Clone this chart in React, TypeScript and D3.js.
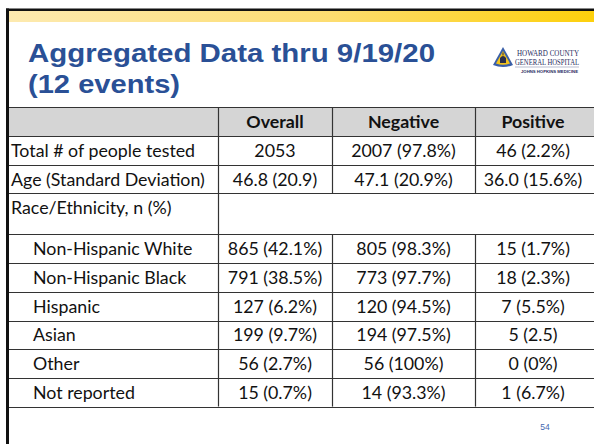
import React, { useRef, useEffect } from 'react';
import * as d3 from 'd3';

const titleLines = ['Aggregated Data thru 9/19/20', '(12 events)'];
const columnHeaders = ['Overall', 'Negative', 'Positive'];
const rowLabels = [
  'Total # of people tested',
  'Age (Standard Deviation)',
  'Race/Ethnicity, n (%)',
  'Non-Hispanic White',
  'Non-Hispanic Black',
  'Hispanic',
  'Asian',
  'Other',
  'Not reported',
];
const overallValues = ['2053', '46.8 (20.9)', '', '865 (42.1%)', '791 (38.5%)', '127 (6.2%)', '199 (9.7%)', '56 (2.7%)', '15 (0.7%)'];
const negativeValues = ['2007 (97.8%)', '47.1 (20.9%)', '', '805 (98.3%)', '773 (97.7%)', '120 (94.5%)', '194 (97.5%)', '56 (100%)', '14 (93.3%)'];
const positiveValues = ['46 (2.2%)', '36.0 (15.6%)', '', '15 (1.7%)', '18 (2.3%)', '7 (5.5%)', '5 (2.5)', '0 (0%)', '1 (6.7%)'];
const indentedRows = [false, false, false, true, true, true, true, true, true];
const pageNumber = '54';

const W = 594;
const H = 444;
const FONT = 'Lato, "Noto Sans", sans-serif';
const FS = 17.8;

const App = () => {
  const ref = useRef<SVGSVGElement>(null);

  useEffect(() => {
    document.body.style.margin = '0';
    const svg = d3.select(ref.current);
    svg.selectAll('*').remove();

    // slide frame
    const defs = svg.append('defs');
    const grad = defs.append('linearGradient').attr('id', 'topBar').attr('x1', 0).attr('x2', 1);
    grad.append('stop').attr('offset', 0).attr('stop-color', '#fdeab0');
    grad.append('stop').attr('offset', 0.55).attr('stop-color', '#fddd70');
    grad.append('stop').attr('offset', 1).attr('stop-color', '#fdd00c');

    svg.append('rect').attr('width', W).attr('height', H).attr('fill', '#fff');
    svg.append('rect').attr('x', 9).attr('y', 11).attr('width', W - 9).attr('height', 11).attr('fill', 'url(#topBar)');
    svg.append('rect').attr('x', 6).attr('y', 8.5).attr('width', W - 6).attr('height', 2.5).attr('fill', '#111');
    svg.append('rect').attr('x', 6).attr('y', 8.5).attr('width', 3).attr('height', H).attr('fill', '#111');

    // title (slide text is a bit stretched horizontally)
    const titleWidths = [407, 152];
    svg.append('g').selectAll('text')
      .data(titleLines)
      .join('text')
      .attr('x', 28)
      .attr('y', (d, i) => 61.5 + i * 31)
      .attr('textLength', (d, i) => titleWidths[i])
      .attr('lengthAdjust', 'spacingAndGlyphs')
      .attr('font-family', 'Liberation Sans, Arial, sans-serif')
      .attr('font-weight', 'bold')
      .attr('font-size', 26.5)
      .attr('fill', '#2a5096')
      .text(d => d);

    // logo
    const logo = svg.append('g').attr('transform', 'translate(492,46)');
    logo.append('path').attr('d', 'M11,1 L21,19 Q11,23 1,19 Z').attr('fill', '#3a5fa8');
    logo.append('path').attr('d', 'M11,5 L18,17.5 Q11,20 4,17.5 Z').attr('fill', '#f2c21b');
    logo.append('path').attr('d', 'M8,17 L8,12 Q11,8 14,12 L14,17 Z').attr('fill', '#2a2f4a');
    logo.append('rect').attr('x', 10.5).attr('y', 6.5).attr('width', 1).attr('height', 3).attr('fill', '#2a2f4a');
    logo.append('text').attr('x', 25).attr('y', 10).attr('textLength', 62).attr('lengthAdjust', 'spacingAndGlyphs')
      .attr('font-family', 'Liberation Serif, serif').attr('font-size', 7.5).attr('fill', '#1f2b5e').text('HOWARD COUNTY');
    logo.append('text').attr('x', 23).attr('y', 18.5).attr('textLength', 64).attr('lengthAdjust', 'spacingAndGlyphs')
      .attr('font-family', 'Liberation Serif, serif').attr('font-size', 7.5).attr('fill', '#1f2b5e').text('GENERAL HOSPITAL');
    logo.append('line').attr('x1', 23).attr('x2', 87).attr('y1', 21).attr('y2', 21).attr('stroke', '#8a92b0').attr('stroke-width', 0.6);
    logo.append('text').attr('x', 29).attr('y', 27).attr('textLength', 57).attr('lengthAdjust', 'spacingAndGlyphs')
      .attr('font-family', 'Liberation Sans, sans-serif').attr('font-size', 3.6).attr('font-weight', 'bold').attr('fill', '#1f2b5e')
      .text('JOHNS HOPKINS MEDICINE');

    // table geometry
    const colEdges = [9, 218, 332, 475, 591];
    const headerTop = 107;
    const headerH = 29;
    const rowH = 28.7;
    const raceH = 41;
    const rowHeights = rowLabels.map((d, i) => (i === 2 ? raceH : rowH));
    const rowTops = rowHeights.map((h, i) => headerTop + headerH + d3.sum(rowHeights.slice(0, i)));
    const tableBottom = rowTops[rowTops.length - 1] + rowH;

    const colCenter = (c: number) => (colEdges[c] + colEdges[c + 1]) / 2;

    const table = svg.append('g');
    table.append('rect')
      .attr('x', colEdges[0]).attr('y', headerTop)
      .attr('width', W - colEdges[0]).attr('height', headerH)
      .attr('fill', '#d5d5d5');

    // horizontal rules
    const hLines = [headerTop, headerTop + headerH, ...rowTops.slice(1), tableBottom];
    table.append('g').selectAll('line')
      .data(hLines)
      .join('line')
      .attr('x1', colEdges[0]).attr('x2', W)
      .attr('y1', d => Math.round(d) + 0.5).attr('y2', d => Math.round(d) + 0.5)
      .attr('stroke', '#333').attr('stroke-width', 1.2);

    // vertical rules (race row merged across value columns)
    colEdges.slice(1, 4).forEach((x, ci) => {
      const segs = ci === 0
        ? [[headerTop, tableBottom]]
        : [[headerTop, rowTops[2]], [rowTops[3], tableBottom]];
      segs.forEach(([y1, y2]) => {
        table.append('line')
          .attr('x1', x + 0.5).attr('x2', x + 0.5)
          .attr('y1', y1).attr('y2', y2)
          .attr('stroke', '#333').attr('stroke-width', 1.2);
      });
    });

    // header text
    table.append('g').selectAll('text')
      .data(columnHeaders)
      .join('text')
      .attr('x', (d, i) => colCenter(i + 1))
      .attr('y', headerTop + headerH / 2 + 6.5)
      .attr('text-anchor', 'middle')
      .attr('font-family', FONT)
      .attr('font-weight', 'bold')
      .attr('font-size', FS)
      .attr('fill', '#111')
      .text(d => d);

    // row labels
    table.append('g').selectAll('text')
      .data(rowLabels)
      .join('text')
      .attr('x', (d, i) => (indentedRows[i] ? 33 : 11))
      .attr('y', (d, i) => rowTops[i] + rowH / 2 + 6.5)
      .attr('font-family', FONT)
      .attr('font-size', FS)
      .attr('fill', '#111')
      .text(d => d);

    // values
    [overallValues, negativeValues, positiveValues].forEach((vals, ci) => {
      table.append('g').selectAll('text')
        .data(vals)
        .join('text')
        .attr('x', colCenter(ci + 1))
        .attr('y', (d, i) => rowTops[i] + rowH / 2 + 6.5)
        .attr('text-anchor', 'middle')
        .attr('font-family', FONT)
        .attr('font-size', FS)
        .attr('fill', '#111')
        .text(d => d);
    });

    svg.append('text')
      .attr('x', 545).attr('y', 430)
      .attr('text-anchor', 'middle')
      .attr('font-family', 'Liberation Sans, Arial, sans-serif')
      .attr('font-size', 8.5)
      .attr('fill', '#4468b0')
      .text(pageNumber);
  }, []);

  return <svg ref={ref} width={W} height={H} style={{ display: 'block' }} />;
};

export default App;
